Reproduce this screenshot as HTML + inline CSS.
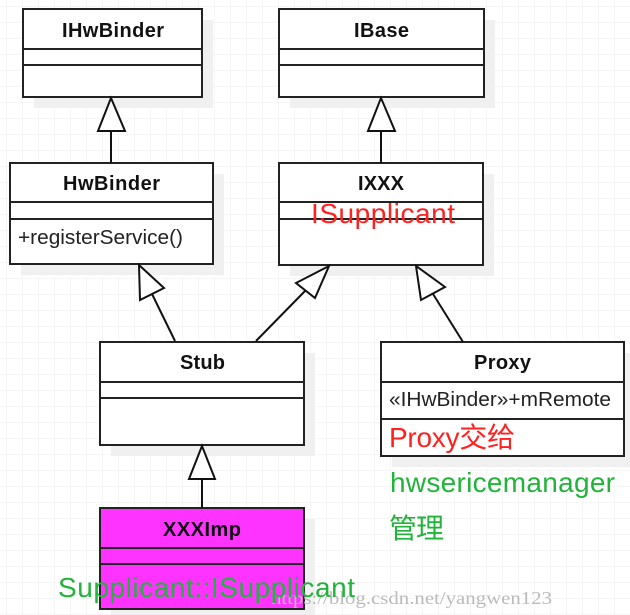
<!DOCTYPE html>
<html><head><meta charset="utf-8"><style>
html,body{margin:0;padding:0;background:#fff}
svg{display:block}
</style></head><body>
<svg width="630" height="615" viewBox="0 0 630 615" xmlns="http://www.w3.org/2000/svg">
<defs>
<pattern id="g" width="16" height="16" patternUnits="userSpaceOnUse" x="7" y="7">
<path d="M16 0V16M0 16H16" stroke="#ececec" stroke-width="1" fill="none"/>
</pattern>
</defs>
<rect width="630" height="615" fill="url(#g)"/>
<g fill="#f0f0f0">
<rect x="34" y="20" width="179" height="88"/>
<rect x="290" y="20" width="205" height="88"/>
<rect x="21" y="174" width="203" height="101"/>
<rect x="290" y="174" width="204" height="102"/>
<rect x="111" y="353" width="204" height="103"/>
<rect x="392" y="353" width="243" height="114"/>
<rect x="111" y="519" width="204" height="96"/>
</g>
<g stroke="#222" stroke-width="2" fill="#fff">
<rect x="23" y="9" width="179" height="88"/>
<line x1="23" y1="49" x2="202" y2="49"/><line x1="23" y1="65" x2="202" y2="65"/>
<rect x="279" y="9" width="205" height="88"/>
<line x1="279" y1="49" x2="484" y2="49"/><line x1="279" y1="65" x2="484" y2="65"/>
<rect x="10" y="163" width="203" height="101"/>
<line x1="10" y1="202" x2="213" y2="202"/><line x1="10" y1="219" x2="213" y2="219"/>
<rect x="279" y="163" width="204" height="102"/>
<line x1="279" y1="202" x2="483" y2="202"/><line x1="279" y1="219" x2="483" y2="219"/>
<rect x="100" y="342" width="204" height="103"/>
<line x1="100" y1="382" x2="304" y2="382"/><line x1="100" y1="398" x2="304" y2="398"/>
<rect x="381" y="342" width="243" height="114"/>
<line x1="381" y1="382" x2="624" y2="382"/><line x1="381" y1="419" x2="624" y2="419"/>
<rect x="100" y="508" width="204" height="101" fill="#ff33ff"/>
<line x1="100" y1="548" x2="304" y2="548"/><line x1="100" y1="564" x2="304" y2="564"/>
</g>
<g stroke="#111" stroke-width="2" fill="#fff">
<line x1="111" y1="163" x2="111" y2="131"/><polygon points="111,98 98,131 125,131"/>
<line x1="381" y1="163" x2="381" y2="131"/><polygon points="381,98 368,131 395,131"/>
<line x1="175" y1="341" x2="152" y2="294"/><polygon points="139,265 140,300 164,288"/>
<line x1="256" y1="341" x2="305" y2="291"/><polygon points="329,266 296,283 315,298"/>
<line x1="463" y1="342" x2="433" y2="294"/><polygon points="416,266 421,300 445,287"/>
<line x1="202" y1="508" x2="202" y2="479"/><polygon points="202,446 189,479 215,479"/>
</g>
<g font-family="Liberation Sans, sans-serif" font-size="20" fill="#111" font-weight="bold" lengthAdjust="spacingAndGlyphs">
<text x="62" y="37" textLength="102">IHwBinder</text>
<text x="354" y="37" textLength="55">IBase</text>
<text x="63" y="190" textLength="97">HwBinder</text>
<text x="358" y="190" textLength="46">IXXX</text>
<text x="180" y="369" textLength="45">Stub</text>
<text x="474" y="369" textLength="57">Proxy</text>
<text x="163" y="536" textLength="78">XXXImp</text>
</g>
<g font-family="Liberation Sans, sans-serif" font-size="20" fill="#222">
<text x="18" y="244" textLength="165" lengthAdjust="spacingAndGlyphs">+registerService()</text>
<text x="389" y="406" textLength="222" lengthAdjust="spacingAndGlyphs">«IHwBinder»+mRemote</text>
</g>
<text x="271" y="604" font-family="Liberation Serif, serif" font-size="18" fill="#bbb" textLength="281" lengthAdjust="spacingAndGlyphs">https://blog.csdn.net/yangwen123</text>
<g font-family="Liberation Sans, 'Noto Sans CJK SC', sans-serif" font-size="28" lengthAdjust="spacingAndGlyphs">
<text x="311" y="223" fill="#ff2020" textLength="144">ISupplicant</text>
<text x="389" y="447" fill="#ff2020" textLength="126">Proxy交给</text>
<text x="390" y="492" fill="#22b33a" textLength="225">hwsericemanager</text>
<text x="389" y="538" fill="#22b33a" textLength="55">管理</text>
<text x="58" y="597" fill="#22b33a" textLength="297">Supplicant::ISupplicant</text>
</g>
</svg>
</body></html>
